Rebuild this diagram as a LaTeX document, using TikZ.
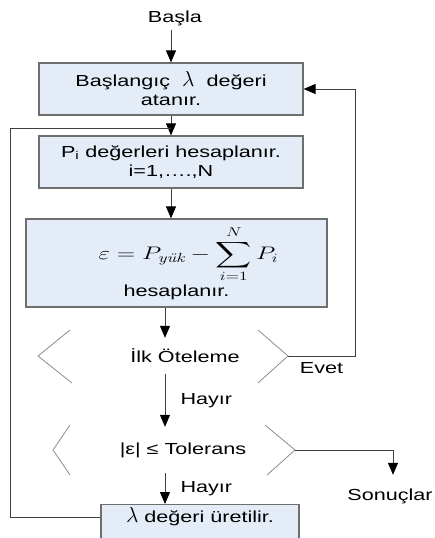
\documentclass[tikz,border=0pt]{standalone}
\usepackage{amsmath}
\usepackage{fontspec}
\setsansfont{Liberation Sans}[FakeStretch=1.35]
\usetikzlibrary{arrows.meta}

\definecolor{boxfill}{HTML}{E4ECF7}
\definecolor{boxline}{HTML}{6E6E6E}

\begin{document}
\begin{tikzpicture}[
    x=1pt, y=-1pt,
    process/.style={
        rectangle, draw=boxline, line width=1.2pt, fill=boxfill,
        align=center, inner sep=0pt,
        font=\sffamily\fontsize{16}{19}\selectfont
    },
    plain/.style={font=\sffamily\fontsize{16}{19}\selectfont, inner sep=0pt},
    lbl/.style={font=\sffamily\fontsize{16}{19}\selectfont, inner sep=1pt},
    flow/.style={draw=black!75, line width=1pt,
        -{Triangle[width=10pt,length=12pt,color=black]}},
    wire/.style={draw=black!75, line width=1pt},
    chev/.style={draw=black!45, line width=0.8pt}
]
\useasboundingbox (0,0) rectangle (435,538);
\clip (0,0) rectangle (435,538);

\node[plain, minimum height=24] (start) at (175,18) {Başla};
\node[process, minimum width=264, minimum height=52] (init) at (171,89)
    {Başlangıç~~\scalebox{1.25}{$\lambda$}~~değeri\\atanır.};
\node[process, minimum width=264, minimum height=52] (pcalc) at (171,162)
    {P\textsubscript{i} değerleri hesaplanır.\\i=1,….,N};
\node[process, minimum width=301, minimum height=88] (eps) at (176.5,263)
    {\hspace*{24pt}{\fontsize{18}{22}\selectfont\scalebox{1.45}[1.05]{$\displaystyle
      \varepsilon = P_{\text{\rmfamily\itshape yük}} - \sum_{i=1}^{N} P_i$}}\\[1pt]
     hesaplanır.};
\node[plain, minimum height=36] (shift) at (185,356) {İlk Öteleme};
\node[plain, minimum height=46] (tol) at (183,450) {|ε| ≤ Tolerans};
\node[plain, minimum height=42] (res) at (390,496) {Sonuçlar};
\node[process, minimum width=198, text height=18pt, text depth=20pt,
      anchor=north] (newlam) at (200,504) {\scalebox{1.25}{$\lambda$} değeri üretilir.};

\coordinate (spine)  at (165,356);
\coordinate (shiftR) at (288,356);
\coordinate (tolR)   at (295,450);

% open decision shapes
\draw[chev] (70,330) -- (38,356) -- (72,383);
\draw[chev] (258,330) -- (288,356) -- (258,383);
\draw[chev] (70,425) -- (53,450) -- (70,475);
\draw[chev] (265,425) -- (295,450) -- (267,475);

\draw[flow] (init |- start.south) -- (init);
\draw[flow] (init) -- (pcalc);
\draw[flow] (pcalc) -- (pcalc |- eps.north);
\draw[flow] (spine |- eps.south) -- (spine |- shift.north);
\draw[flow] (spine |- shift.south) -- node[lbl, right=14pt]{Hayır} (spine |- tol.north);
\draw[flow] (spine |- tol.south) -- node[lbl, right=14pt]{Hayır} (spine |- newlam.north);
\draw[flow] (shiftR) -- node[lbl, below=5pt]{Evet} ++(67,0) |- (init.east);
\draw[flow] (tolR) -| ([xshift=3pt]res.north);
\draw[wire] ([yshift=6pt]newlam.west) -- ++(-90,0) |- ([yshift=-13pt]init.south);

\end{tikzpicture}
\end{document}
